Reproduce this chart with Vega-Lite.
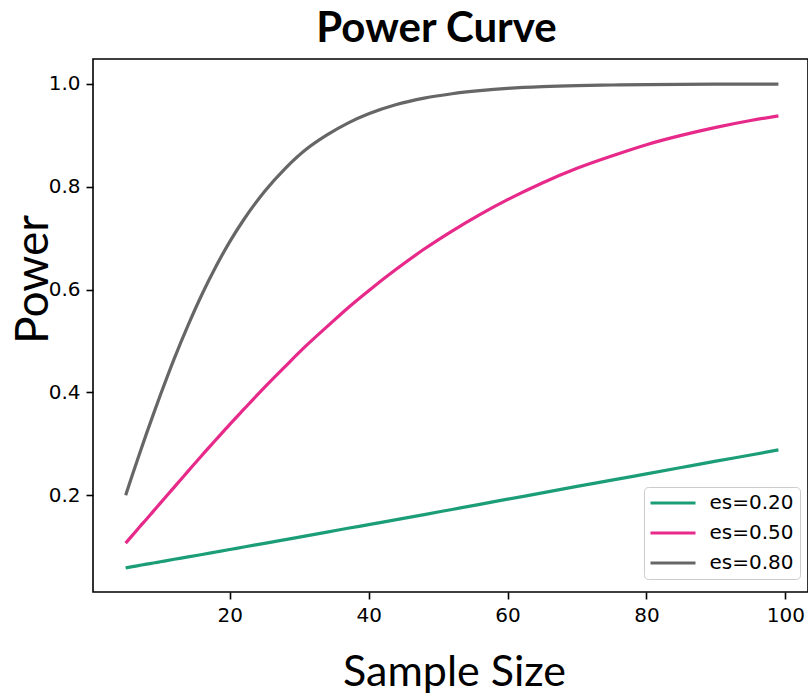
{
  "$schema": "https://vega.github.io/schema/vega-lite/v6.json",
  "width": 715,
  "height": 533,
  "autosize": "none",
  "padding": {"left": 93, "top": 59, "right": 0, "bottom": 102},
  "background": "white",
  "title": {
    "text": "Power Curve",
    "font": "Lato",
    "fontWeight": "bold",
    "fontSize": 42,
    "color": "#000000",
    "anchor": "middle",
    "dx": -14,
    "baseline": "alphabetic",
    "offset": -25
  },
  "config": {
    "view": {"stroke": "#000000", "strokeWidth": 1.6},
    "axis": {
      "domain": false,
      "grid": false,
      "ticks": true,
      "tickColor": "#000000",
      "tickWidth": 1.6,
      "tickSize": 7,
      "labelFont": "DejaVu Sans",
      "labelFontSize": 20,
      "labelColor": "#000000",
      "labelPadding": 6,
      "titleColor": "#000000",
      "titleFont": "Lato",
      "titleFontWeight": "normal"
    }
  },
  "data": {
    "values": [
      {"n": 5, "es": "es=0.20", "power": 0.0590},
      {"n": 6, "es": "es=0.20", "power": 0.0613},
      {"n": 7, "es": "es=0.20", "power": 0.0637},
      {"n": 8, "es": "es=0.20", "power": 0.0661},
      {"n": 9, "es": "es=0.20", "power": 0.0684},
      {"n": 10, "es": "es=0.20", "power": 0.0708},
      {"n": 12, "es": "es=0.20", "power": 0.0756},
      {"n": 14, "es": "es=0.20", "power": 0.0802},
      {"n": 16, "es": "es=0.20", "power": 0.0850},
      {"n": 18, "es": "es=0.20", "power": 0.0898},
      {"n": 20, "es": "es=0.20", "power": 0.0946},
      {"n": 22, "es": "es=0.20", "power": 0.0995},
      {"n": 25, "es": "es=0.20", "power": 0.1066},
      {"n": 28, "es": "es=0.20", "power": 0.1138},
      {"n": 31, "es": "es=0.20", "power": 0.1212},
      {"n": 34, "es": "es=0.20", "power": 0.1284},
      {"n": 37, "es": "es=0.20", "power": 0.1359},
      {"n": 40, "es": "es=0.20", "power": 0.1430},
      {"n": 44, "es": "es=0.20", "power": 0.1529},
      {"n": 48, "es": "es=0.20", "power": 0.1626},
      {"n": 52, "es": "es=0.20", "power": 0.1725},
      {"n": 56, "es": "es=0.20", "power": 0.1824},
      {"n": 60, "es": "es=0.20", "power": 0.1925},
      {"n": 65, "es": "es=0.20", "power": 0.2047},
      {"n": 70, "es": "es=0.20", "power": 0.2173},
      {"n": 75, "es": "es=0.20", "power": 0.2295},
      {"n": 80, "es": "es=0.20", "power": 0.2418},
      {"n": 85, "es": "es=0.20", "power": 0.2541},
      {"n": 90, "es": "es=0.20", "power": 0.2664},
      {"n": 95, "es": "es=0.20", "power": 0.2785},
      {"n": 99, "es": "es=0.20", "power": 0.2883},
      {"n": 5, "es": "es=0.50", "power": 0.107},
      {"n": 6, "es": "es=0.50", "power": 0.1226},
      {"n": 7, "es": "es=0.50", "power": 0.1385},
      {"n": 8, "es": "es=0.50", "power": 0.1536},
      {"n": 9, "es": "es=0.50", "power": 0.1693},
      {"n": 10, "es": "es=0.50", "power": 0.1848},
      {"n": 12, "es": "es=0.50", "power": 0.216},
      {"n": 14, "es": "es=0.50", "power": 0.247},
      {"n": 16, "es": "es=0.50", "power": 0.278},
      {"n": 18, "es": "es=0.50", "power": 0.308},
      {"n": 20, "es": "es=0.50", "power": 0.338},
      {"n": 22, "es": "es=0.50", "power": 0.367},
      {"n": 25, "es": "es=0.50", "power": 0.410},
      {"n": 28, "es": "es=0.50", "power": 0.451},
      {"n": 31, "es": "es=0.50", "power": 0.491},
      {"n": 34, "es": "es=0.50", "power": 0.528},
      {"n": 37, "es": "es=0.50", "power": 0.5645},
      {"n": 40, "es": "es=0.50", "power": 0.598},
      {"n": 44, "es": "es=0.50", "power": 0.640},
      {"n": 48, "es": "es=0.50", "power": 0.679},
      {"n": 52, "es": "es=0.50", "power": 0.714},
      {"n": 56, "es": "es=0.50", "power": 0.746},
      {"n": 60, "es": "es=0.50", "power": 0.775},
      {"n": 65, "es": "es=0.50", "power": 0.8075},
      {"n": 70, "es": "es=0.50", "power": 0.836},
      {"n": 75, "es": "es=0.50", "power": 0.860},
      {"n": 80, "es": "es=0.50", "power": 0.882},
      {"n": 85, "es": "es=0.50", "power": 0.900},
      {"n": 90, "es": "es=0.50", "power": 0.9156},
      {"n": 95, "es": "es=0.50", "power": 0.929},
      {"n": 99, "es": "es=0.50", "power": 0.938},
      {"n": 5, "es": "es=0.80", "power": 0.200},
      {"n": 6, "es": "es=0.80", "power": 0.241},
      {"n": 7, "es": "es=0.80", "power": 0.281},
      {"n": 8, "es": "es=0.80", "power": 0.320},
      {"n": 9, "es": "es=0.80", "power": 0.358},
      {"n": 10, "es": "es=0.80", "power": 0.395},
      {"n": 12, "es": "es=0.80", "power": 0.466},
      {"n": 14, "es": "es=0.80", "power": 0.531},
      {"n": 16, "es": "es=0.80", "power": 0.591},
      {"n": 18, "es": "es=0.80", "power": 0.645},
      {"n": 20, "es": "es=0.80", "power": 0.6935},
      {"n": 22, "es": "es=0.80", "power": 0.736},
      {"n": 25, "es": "es=0.80", "power": 0.791},
      {"n": 28, "es": "es=0.80", "power": 0.836},
      {"n": 31, "es": "es=0.80", "power": 0.873},
      {"n": 34, "es": "es=0.80", "power": 0.901},
      {"n": 37, "es": "es=0.80", "power": 0.924},
      {"n": 40, "es": "es=0.80", "power": 0.942},
      {"n": 44, "es": "es=0.80", "power": 0.960},
      {"n": 48, "es": "es=0.80", "power": 0.9725},
      {"n": 52, "es": "es=0.80", "power": 0.981},
      {"n": 56, "es": "es=0.80", "power": 0.987},
      {"n": 60, "es": "es=0.80", "power": 0.9915},
      {"n": 65, "es": "es=0.80", "power": 0.995},
      {"n": 70, "es": "es=0.80", "power": 0.997},
      {"n": 75, "es": "es=0.80", "power": 0.998},
      {"n": 80, "es": "es=0.80", "power": 0.9989},
      {"n": 85, "es": "es=0.80", "power": 0.9994},
      {"n": 90, "es": "es=0.80", "power": 0.9996},
      {"n": 95, "es": "es=0.80", "power": 0.9998},
      {"n": 99, "es": "es=0.80", "power": 0.9999}
    ]
  },
  "mark": {"type": "line", "strokeWidth": 3.2, "interpolate": "monotone", "clip": true},
  "encoding": {
    "x": {
      "field": "n",
      "type": "quantitative",
      "scale": {"domain": [0.3, 103.26], "nice": false, "zero": false},
      "axis": {
        "values": [20, 40, 60, 80, 100],
        "title": "Sample Size",
        "titleFontSize": 43,
        "titleX": 361,
        "titleY": 93,
        "titleAlign": "center",
        "titleBaseline": "alphabetic",
        "labelBaseline": "top"
      }
    },
    "y": {
      "field": "power",
      "type": "quantitative",
      "scale": {"domain": [0.012, 1.0486], "nice": false, "zero": false},
      "axis": {
        "values": [0.2, 0.4, 0.6, 0.8, 1.0],
        "format": ".1f",
        "title": "Power",
        "titleFontSize": 46,
        "titleAngle": 270,
        "titleX": -46,
        "titleY": 220,
        "titleAlign": "center",
        "titleBaseline": "alphabetic"
      }
    },
    "color": {
      "field": "es",
      "type": "nominal",
      "scale": {"domain": ["es=0.20", "es=0.50", "es=0.80"], "range": ["#1b9e77", "#e7298a", "#666666"]},
      "legend": {
        "title": null,
        "orient": "none",
        "legendX": 551,
        "legendY": 428,
        "symbolType": "stroke",
        "symbolSize": 2025,
        "symbolStrokeWidth": 3.2,
        "symbolOffset": -1.5,
        "clipHeight": 20,
        "labelFont": "DejaVu Sans",
        "labelFontSize": 20,
        "labelColor": "#000000",
        "labelOffset": 12,
        "rowPadding": 10,
        "padding": 6,
        "strokeColor": "#cccccc",
        "fillColor": "#ffffff",
        "cornerRadius": 4
      }
    }
  }
}
